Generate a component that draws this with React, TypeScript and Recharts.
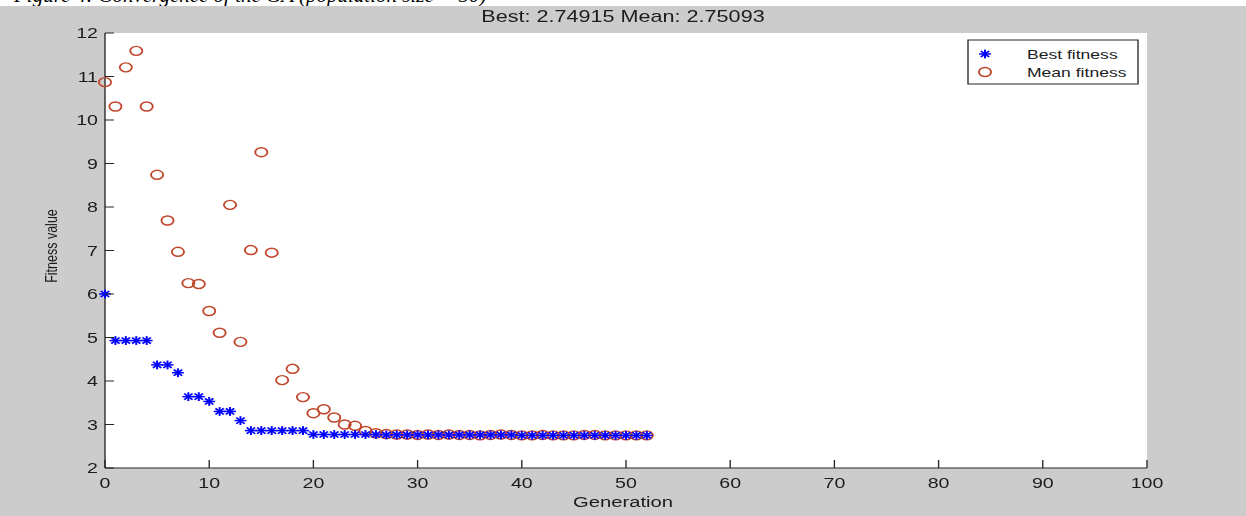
import { CartesianGrid, Scatter, ScatterChart, XAxis, YAxis } from "recharts";

// values, one per generation (0..52)
const bestFitness = [
  6.0, 4.93, 4.93, 4.93, 4.93, 4.37, 4.37, 4.19, 3.64, 3.64, 3.53, 3.3, 3.3,
  3.09, 2.86, 2.86, 2.86, 2.86, 2.86, 2.86, 2.77, 2.77, 2.77, 2.77, 2.77, 2.77,
  2.77, 2.76, 2.76, 2.76, 2.76, 2.76, 2.76, 2.76, 2.76, 2.76, 2.76, 2.76, 2.76,
  2.76, 2.75, 2.75, 2.75, 2.75, 2.75, 2.75, 2.75, 2.75, 2.75, 2.75, 2.749,
  2.749, 2.749,
];
const meanFitness = [
  10.87, 10.31, 11.21, 11.59, 10.31, 8.74, 7.69, 6.97, 6.25, 6.23, 5.61, 5.11,
  8.05, 4.9, 7.01, 9.26, 6.95, 4.02, 4.28, 3.63, 3.26, 3.35, 3.16, 3.0, 2.97,
  2.85, 2.8, 2.78, 2.77, 2.77, 2.76, 2.77, 2.76, 2.77, 2.76, 2.76, 2.75, 2.76,
  2.77, 2.76, 2.75, 2.75, 2.76, 2.75, 2.75, 2.75, 2.76, 2.76, 2.75, 2.75, 2.75,
  2.751, 2.751,
];
const xTicks = [0, 10, 20, 30, 40, 50, 60, 70, 80, 90, 100];
const yTicks = [2, 3, 4, 5, 6, 7, 8, 9, 10, 11, 12];
const title = "Best: 2.74915 Mean: 2.75093";
const seriesNames = ["Best fitness", "Mean fitness"];
const caption = "Figure 4: Convergence of the GA (population size = 50)";

const bestData = bestFitness.map((v, i) => ({ gen: i, value: v }));
const meanData = meanFitness.map((v, i) => ({ gen: i, value: v }));

// the reference is stretched sideways, so draw narrow and scale
const K = 1.35;
const W = 1246 / K;
const H = 516;
const FONT = "'Liberation Sans', Arial, sans-serif";
const BLUE = "#0000ff";
const RED = "#c0462c";
const AXIS = "#262626";
const TEXT = "#1c1c1c";

function StarMark({ cx, cy }: any) {
  const r = 4.4;
  const d = r * 0.7;
  return (
    <g stroke={BLUE} strokeWidth={1.5}>
      <line x1={cx - r} y1={cy} x2={cx + r} y2={cy} />
      <line x1={cx} y1={cy - r} x2={cx} y2={cy + r} />
      <line x1={cx - d} y1={cy - d} x2={cx + d} y2={cy + d} />
      <line x1={cx - d} y1={cy + d} x2={cx + d} y2={cy - d} />
    </g>
  );
}

function CircleMark({ cx, cy }: any) {
  return <circle cx={cx} cy={cy} r={4.5} fill="none" stroke={RED} strokeWidth={1.4} />;
}

function YTick({ x, y, payload }: any) {
  return (
    <g>
      <line x1={x} y1={y} x2={x + 6.7} y2={y} stroke={AXIS} strokeWidth={1} />
      <text x={x - 5.2} y={y} dy="0.36em" textAnchor="end" fontFamily={FONT} fontSize={14.5} fill={TEXT}>
        {payload.value}
      </text>
    </g>
  );
}

function XTick({ x, y, payload }: any) {
  return (
    <g>
      <line x1={x} y1={y} x2={x} y2={y - 8} stroke={AXIS} strokeWidth={1} />
      <text x={x} y={y + 20} textAnchor="middle" fontFamily={FONT} fontSize={14.5} fill={TEXT}>
        {payload.value}
      </text>
    </g>
  );
}

export default function App() {
  return (
    <div style={{ position: "absolute", left: 0, top: 0, width: 1246, height: H, background: "#cccccc", overflow: "hidden" }}>
      <div style={{ position: "absolute", left: 0, top: 0, width: 1246, height: 6, background: "#fff", overflow: "hidden" }}>
        <div style={{ position: "absolute", left: 14, top: -17, whiteSpace: "nowrap", fontFamily: "'Liberation Serif', serif", fontStyle: "italic", fontSize: 21, color: "#000" }}>
          {caption}
        </div>
      </div>
      <div style={{ position: "absolute", left: 0, top: 0, width: W, height: H, transform: `scaleX(${K})`, transformOrigin: "0 0" }}>
        <ScatterChart width={W} height={H} margin={{ top: 33, right: 99 / K, bottom: 18, left: 105 / K - 40 }}>
          <CartesianGrid fill="#ffffff" horizontal={false} vertical={false} />
          <XAxis
            type="number"
            dataKey="gen"
            domain={[0, 100]}
            ticks={xTicks}
            height={30}
            tickSize={0}
            tickMargin={0}
            tickLine={false}
            axisLine={{ stroke: AXIS, strokeWidth: 1 }}
            tick={XTick}
          />
          <YAxis
            type="number"
            dataKey="value"
            domain={[2, 12]}
            ticks={yTicks}
            width={40}
            tickSize={0}
            tickMargin={0}
            tickLine={false}
            axisLine={{ stroke: AXIS, strokeWidth: 1 }}
            tick={YTick}
          />
          <Scatter name={seriesNames[1]} data={meanData} shape={CircleMark} isAnimationActive={false} />
          <Scatter name={seriesNames[0]} data={bestData} shape={StarMark} isAnimationActive={false} />
        </ScatterChart>
        <svg width={W} height={H} style={{ position: "absolute", left: 0, top: 0, pointerEvents: "none" }}>
          <text x={623 / K} y={22} textAnchor="middle" fontFamily={FONT} fontSize={16} fill={TEXT}>
            {title}
          </text>
          <text x={623 / K} y={507} textAnchor="middle" fontFamily={FONT} fontSize={15} fill={TEXT}>
            Generation
          </text>
          <text
            transform={`translate(${57 / K}, 246) rotate(-90)`}
            textAnchor="middle"
            fontFamily={FONT}
            fontSize={12.5}
            fill={TEXT}
          >
            Fitness value
          </text>
          <g transform={`translate(${968 / K}, 40)`}>
            <rect x={0} y={0} width={170 / K} height={44} fill="#fff" stroke={AXIS} strokeWidth={1} />
            <StarMark cx={17 / K} cy={14} />
            <CircleMark cx={17 / K} cy={32} />
            <text x={59 / K} y={14} dy="0.36em" fontFamily={FONT} fontSize={13} fill={TEXT}>
              {seriesNames[0]}
            </text>
            <text x={59 / K} y={32} dy="0.36em" fontFamily={FONT} fontSize={13} fill={TEXT}>
              {seriesNames[1]}
            </text>
          </g>
        </svg>
      </div>
    </div>
  );
}
